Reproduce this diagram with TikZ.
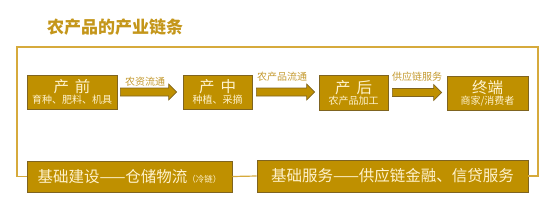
\documentclass[tikz,border=0pt]{standalone}
\usepackage{fontspec}
\setmainfont{Noto Sans CJK SC}
\usetikzlibrary{calc,shadows}
\definecolor{gold}{HTML}{BF9000}
\definecolor{golddk}{HTML}{7F6420}
\definecolor{cream}{HTML}{FFF2CC}
\definecolor{frame}{HTML}{D6AA3C}
\definecolor{titlec}{HTML}{C4961A}
\definecolor{labc}{HTML}{C49A30}
\tikzset{
  box/.style={draw=golddk, line width=0.8pt, fill=gold, text=cream, align=center, inner sep=0pt,
    drop shadow={shadow xshift=1.2pt, shadow yshift=-1.2pt, opacity=0.35, fill=black!60}},
  arr/.style={draw=golddk, line width=0.6pt, fill=gold},
  lab/.style={text=labc, inner sep=0pt, font=\fontsize{10}{11}\selectfont},
  frm/.style={draw=frame, line width=1.2pt},
}
\newcommand{\sub}[1]{{\fontsize{10}{11}\selectfont #1}}
\newcommand{\mainw}[1]{{\fontsize{15.5}{15}\selectfont #1}}
\begin{document}
\begin{tikzpicture}[x=1pt,y=-1pt]
\useasboundingbox (0,0) rectangle (556,215);
\node[text=titlec, inner sep=0pt, font=\fontsize{17}{18}\selectfont\bfseries] (title) at (115,27.5) {农产品的产业链条};

\node[box, minimum width=90pt, minimum height=34pt] (b1) at (72,92) {\mainw{产\hspace{6pt}前}\\[-1pt]\sub{育种、肥料、机具}};
\node[box, minimum width=69pt, minimum height=34pt] (b2) at (217.5,92) {\mainw{产\hspace{6pt}中}\\[-1pt]\sub{种植、采摘}};
\node[box, minimum width=69pt, minimum height=35pt] (b3) at (353.5,92.5) {\mainw{产\hspace{6pt}后}\\[-1pt]\sub{农产品加工}};
\node[box, minimum width=81pt, minimum height=34pt] (b4) at (487.5,93) {\mainw{终端}\\[-1pt]\sub{商家/消费者}};

\node[box, minimum width=205pt, minimum height=31pt, font=\fontsize{15.5}{16}\selectfont] (ba) at (129.5,176.5) {基础建设——仓储物流{\fontsize{8.5}{9}\selectfont （冷链）}};
\node[box, minimum width=271pt, minimum height=32pt, font=\fontsize{15.5}{16}\selectfont] (bb) at (392.5,176) {基础服务——供应链金融、信贷服务};

% arrows
\draw[arr] let \p1=($(b1.east)+(3,0)$), \p2=($(b2.west)+(-6,0)$) in
  (\x1,\y1+4) -- (\x2-8,\y1+4) -- (\x2-8,\y1+8) -- (\x2,\y1) -- (\x2-8,\y1-8) -- (\x2-8,\y1-4) -- (\x1,\y1-4) -- cycle;
\draw[arr] let \p1=($(b2.east)+(4,0)$), \p2=($(b3.west)+(-4,0)$) in
  (\x1,\y1+4) -- (\x2-8,\y1+4) -- (\x2-8,\y1+8) -- (\x2,\y1) -- (\x2-8,\y1-8) -- (\x2-8,\y1-4) -- (\x1,\y1-4) -- cycle;
\draw[arr] let \p1=($(b3.east)+(4,0)$), \p2=($(b4.west)+(-5,0)$) in
  (\x1,\y1+4) -- (\x2-8,\y1+4) -- (\x2-8,\y1+8) -- (\x2,\y1) -- (\x2-8,\y1-8) -- (\x2-8,\y1-4) -- (\x1,\y1-4) -- cycle;

\node[lab] (l1) at (145,82) {农资流通};
\node[lab] (l2) at (282,77) {农产品流通};
\node[lab] (l3) at (417,77) {供应链服务};

% frame
\coordinate (tl) at (17,47);
\coordinate (tr) at (538,47);
\draw[frm] (ba.west) -| (tl) -- (tr) |- (bb.east);
\draw[frm] (ba.east) -- (bb.west);
\end{tikzpicture}
\end{document}
